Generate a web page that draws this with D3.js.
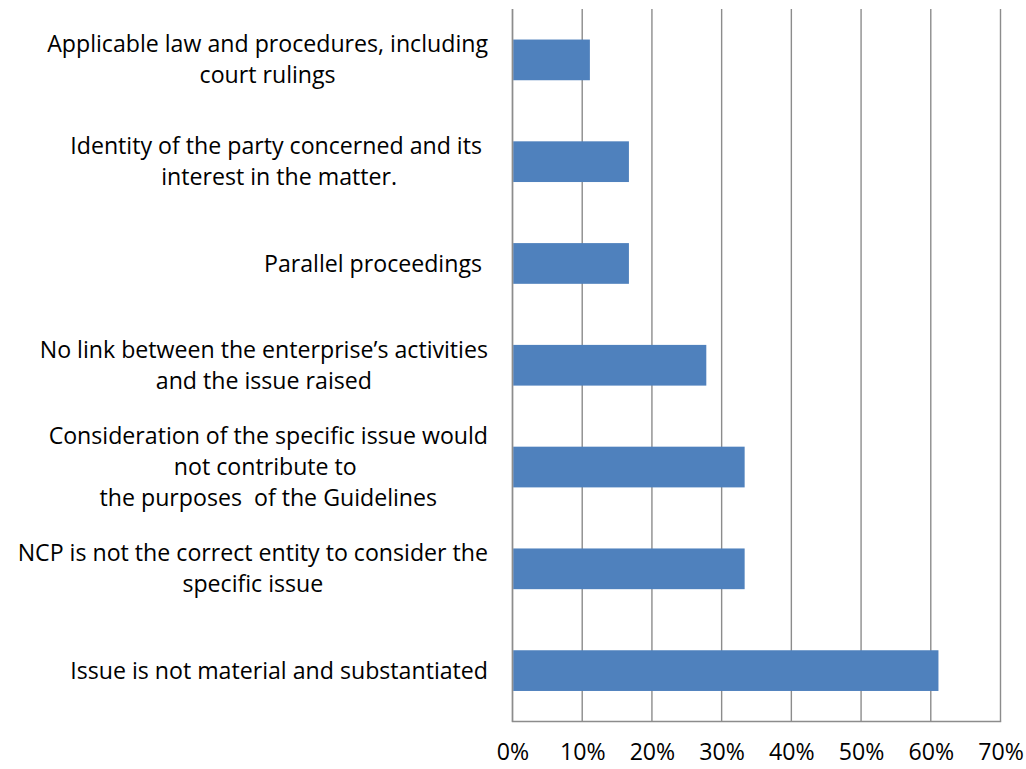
<!DOCTYPE html>
<html>
<head>
<meta charset="utf-8">
<script src="https://cdn.jsdelivr.net/npm/d3@7"></script>
<style>
  html, body { margin: 0; padding: 0; background: #fff; }
  svg { display: block; }
</style>
</head>
<body>
<svg id="chart" width="1026" height="769"></svg>
<script>
// Categories, top to bottom; each label split into its displayed lines
const categories = [
  "Applicable law and procedures, including court rulings",
  "Identity of the party concerned and its interest in the matter.",
  "Parallel proceedings",
  "No link between the enterprise’s activities and the issue raised",
  "Consideration of the specific issue would not contribute to the purposes of the Guidelines",
  "NCP is not the correct entity to consider the specific issue",
  "Issue is not material and substantiated"
];
const labelLines = [
  ["Applicable law and procedures, including", "court rulings"],
  ["Identity of the party concerned and its\u00a0", "interest in the matter."],
  ["Parallel proceedings\u00a0"],
  ["No link between the enterprise’s activities", "and the issue raised"],
  ["Consideration of the specific issue would", "not contribute to\u00a0", "the purposes\u00a0 of the Guidelines"],
  ["NCP is not the correct entity to consider the", "specific issue"],
  ["Issue is not material and substantiated"]
];
const values = [0.111, 0.167, 0.167, 0.278, 0.333, 0.333, 0.611];
const tickValues = [0, 0.1, 0.2, 0.3, 0.4, 0.5, 0.6, 0.7];
const tickLabels = ["0%", "10%", "20%", "30%", "40%", "50%", "60%", "70%"];

const svg = d3.select("#chart");
const plot = { left: 512.5, right: 1000.5, top: 9, bottom: 721.5 };
const font = "'Open Sans', sans-serif";

// fit font size so the longest single-line label matches the reference width
const probe = svg.append("text").attr("font-family", font).attr("font-size", 20)
  .text("Issue is not material and substantiated");
const fontSize = 20 * 418 / probe.node().getComputedTextLength();
probe.remove();

const x = d3.scaleLinear().domain([0, 0.7]).range([plot.left, plot.right]);
const y = d3.scaleBand().domain(categories).range([plot.top, plot.bottom]).paddingInner(0.6).paddingOuter(0.3);

// gridlines
svg.append("g").selectAll("line").data(tickValues).join("line")
  .attr("x1", d => x(d)).attr("x2", d => x(d))
  .attr("y1", plot.top).attr("y2", plot.bottom)
  .attr("stroke", "#8c8c8c").attr("stroke-width", 1.4);

// bars
svg.append("g").selectAll("rect").data(categories).join("rect")
  .attr("x", x(0) + 0.7)
  .attr("y", d => y(d))
  .attr("width", (d, i) => x(values[i]) - x(0) - 0.7)
  .attr("height", y.bandwidth())
  .attr("fill", "#4f81bd");

// axis lines
svg.append("line").attr("x1", plot.left).attr("x2", plot.left)
  .attr("y1", plot.top).attr("y2", plot.bottom)
  .attr("stroke", "#8c8c8c").attr("stroke-width", 1.4);
svg.append("line").attr("x1", plot.left - 0.7).attr("x2", plot.right + 0.7)
  .attr("y1", plot.bottom).attr("y2", plot.bottom)
  .attr("stroke", "#8c8c8c").attr("stroke-width", 1.4);

// bottom tick labels via d3 axis
const xAxis = d3.axisBottom(x).tickValues(tickValues)
  .tickFormat((d, i) => tickLabels[i]).tickSize(0).tickPadding(0);
const gx = svg.append("g").attr("transform", `translate(0, ${plot.bottom})`).call(xAxis);
gx.select(".domain").remove();
gx.selectAll("text")
  .attr("y", 38).attr("dy", "0")
  .attr("font-family", font).attr("font-size", fontSize).attr("fill", "#000");

// category labels: lines centered within a block right-aligned at 488
const labelRight = 488;
const lineH = 31;
const lg = svg.append("g").attr("font-family", font).attr("font-size", fontSize).attr("fill", "#000");
categories.forEach((c, i) => {
  const lines = labelLines[i];
  const cy = y(c) + y.bandwidth() / 2;
  const g = lg.append("g");
  const texts = lines.map((ln, k) => g.append("text")
    .attr("xml:space", "preserve")
    .style("white-space", "pre")
    .attr("y", cy + (k - (lines.length - 1) / 2) * lineH)
    .attr("dy", "0.35em")
    .attr("text-anchor", "middle")
    .text(ln));
  const widths = texts.map(t => t.node().getComputedTextLength());
  const maxW = d3.max(widths);
  const center = labelRight - maxW / 2;
  texts.forEach(t => t.attr("x", center));
});
</script>
</body>
</html>
